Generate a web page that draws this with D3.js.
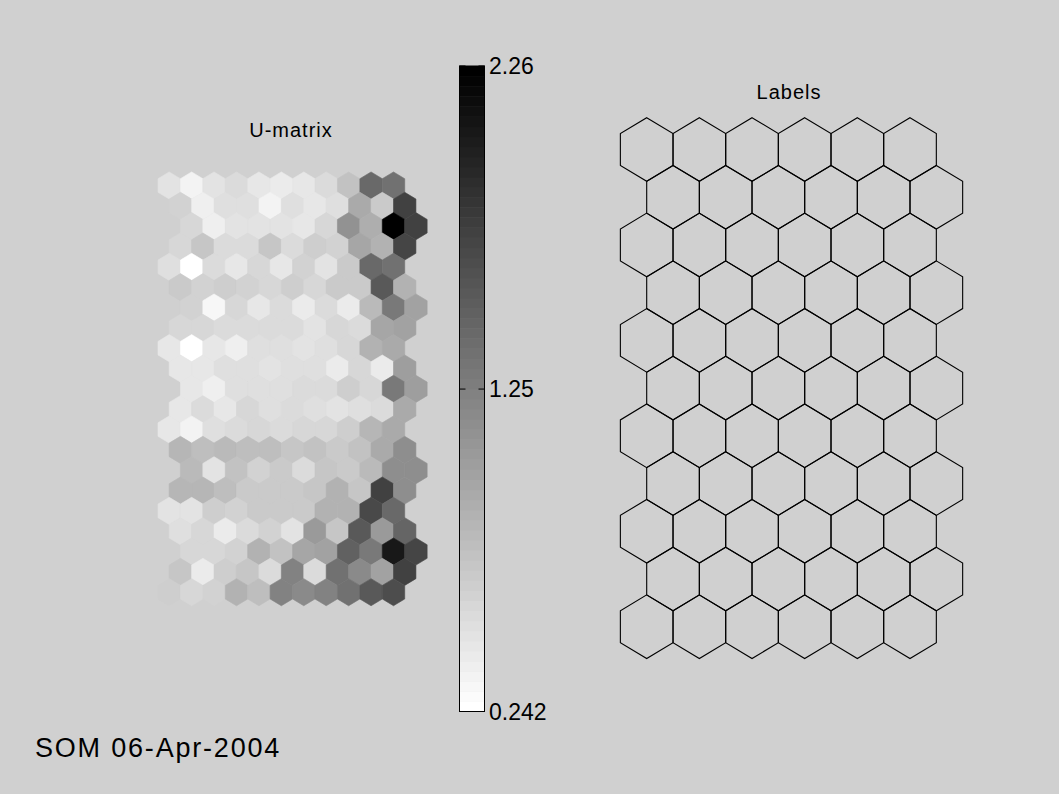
<!DOCTYPE html>
<html>
<head>
<meta charset="utf-8">
<script src="https://cdn.jsdelivr.net/npm/d3@7"></script>
<style>
  body { margin: 0; background: #d0d0d0; }
  svg { display: block; }
</style>
</head>
<body>
<svg id="main-svg"></svg>
<script>
// u-matrix values, 21 rows x 11 columns (read from the gray levels)
const umatRows = [
  [0.49, 0.36, 0.49, 0.55, 0.44, 0.40, 0.44, 0.55, 0.74, 1.42, 1.37],
  [0.61, 0.39, 0.52, 0.52, 0.35, 0.52, 0.46, 0.52, 0.93, 0.68, 1.75],
  [0.58, 0.38, 0.49, 0.49, 0.49, 0.46, 0.58, 1.12, 0.90, 2.26, 1.75],
  [0.58, 0.71, 0.55, 0.55, 0.71, 0.55, 0.65, 0.61, 0.96, 0.87, 1.72],
  [0.52, 0.24, 0.55, 0.46, 0.58, 0.46, 0.61, 0.49, 0.68, 1.41, 1.37],
  [0.68, 0.61, 0.65, 0.61, 0.58, 0.65, 0.58, 0.68, 0.68, 1.56, 0.87],
  [0.61, 0.31, 0.58, 0.44, 0.55, 0.42, 0.55, 0.42, 0.80, 1.31, 0.99],
  [0.58, 0.58, 0.55, 0.53, 0.53, 0.53, 0.49, 0.58, 0.55, 0.96, 0.99],
  [0.46, 0.24, 0.46, 0.39, 0.50, 0.50, 0.49, 0.52, 0.58, 0.87, 0.93],
  [0.44, 0.44, 0.52, 0.50, 0.49, 0.52, 0.50, 0.42, 0.58, 0.42, 1.03],
  [0.46, 0.39, 0.52, 0.52, 0.52, 0.55, 0.55, 0.65, 0.58, 1.31, 1.03],
  [0.46, 0.55, 0.46, 0.58, 0.52, 0.55, 0.52, 0.49, 0.52, 0.55, 0.93],
  [0.46, 0.36, 0.52, 0.55, 0.58, 0.55, 0.58, 0.58, 0.65, 0.84, 0.91],
  [0.84, 0.77, 0.80, 0.77, 0.77, 0.71, 0.74, 0.68, 0.74, 0.93, 1.15],
  [0.80, 0.49, 0.74, 0.61, 0.68, 0.55, 0.71, 0.68, 0.80, 1.15, 1.15],
  [0.84, 0.84, 0.77, 0.68, 0.68, 0.68, 0.71, 0.87, 0.71, 1.75, 1.15],
  [0.49, 0.49, 0.65, 0.61, 0.68, 0.68, 0.68, 0.87, 0.87, 1.69, 1.44],
  [0.52, 0.58, 0.42, 0.55, 0.61, 0.49, 1.06, 0.71, 1.56, 1.04, 1.47],
  [0.58, 0.58, 0.61, 0.87, 0.74, 0.96, 0.99, 1.50, 1.31, 2.04, 1.72],
  [0.71, 0.42, 0.65, 0.71, 0.55, 1.25, 0.55, 1.37, 1.18, 0.99, 1.75],
  [0.65, 0.58, 0.61, 0.87, 0.77, 1.25, 1.18, 1.22, 1.37, 1.56, 1.63]
];
// colour range and colorbar ticks
const umatRange = [0.242, 2.26];
const colorbarTicks = [0.242, 1.25, 2.26];
const colorbarTickLabels = ["0.242", "1.25", "2.26"];
// som map size (rows, columns) for the labels plane
const mapRows = 11;
const mapCols = 6;
const titles = ["U-matrix", "Labels"];
const footer = "SOM 06-Apr-2004";

const width = 1059;
const height = 794;
const font = "'Liberation Sans', Arial, sans-serif";
const nLevels = 64;

var svg = d3.select("#main-svg")
    .attr("width", width)
    .attr("height", height);

svg.append("rect")
    .attr("width", width)
    .attr("height", height)
    .attr("fill", "#d0d0d0");

// hexagon corners in lattice units (pointy top)
const s3 = Math.sqrt(3);
const hexCorners = [[0, -1 / s3], [0.5, -0.5 / s3], [0.5, 0.5 / s3], [0, 1 / s3], [-0.5, 0.5 / s3], [-0.5, -0.5 / s3]];
const rowStep = Math.sqrt(0.75);

function hexPath(cx, cy, xScale, yScale) {
    return "M" + hexCorners.map(c => xScale(cx + c[0]) + "," + yScale(cy + c[1])).join("L") + "Z";
}

// quantized gray colormap, white = low, black = high
var levelScale = d3.scaleQuantize().domain(umatRange).range(d3.range(nLevels));
function grayOf(level) {
    var g = Math.round(255 * (1 - level / (nLevels - 1)));
    return d3.rgb(g, g, g).toString();
}

// ---- u-matrix plane ----
var umX = d3.scaleLinear().domain([0, 10]).range([169.2, 393.5]);
var umY = d3.scaleLinear().domain([0, 20 * rowStep]).range([185.5, 592.2]);
// hexaU lattice: rows shifted 0, .5, 1, .5 of a cell
const umShift = [0, 0.5, 1, 0.5];

var umCells = [];
umatRows.forEach((row, r) => {
    row.forEach((v, c) => {
        umCells.push({ x: c + umShift[r % 4], y: r * rowStep, v: v });
    });
});

svg.append("g")
    .selectAll("path")
    .data(umCells)
    .enter()
    .append("path")
    .attr("d", d => hexPath(d.x, d.y, umX, umY))
    .attr("fill", d => grayOf(levelScale(d.v)))
    .attr("stroke", d => grayOf(levelScale(d.v)))
    .attr("stroke-width", 0.6);

svg.append("text")
    .attr("x", 291)
    .attr("y", 137)
    .attr("text-anchor", "middle")
    .attr("font-family", font)
    .attr("font-size", "20px")
    .attr("letter-spacing", "1px")
    .text(titles[0]);

// ---- colorbar ----
var cbX0 = 459.5, cbX1 = 484.5;
var cbY = d3.scaleLinear().domain(umatRange).range([711.5, 66]);
var step = (umatRange[1] - umatRange[0]) / nLevels;

svg.append("g")
    .selectAll("rect")
    .data(d3.range(nLevels))
    .enter()
    .append("rect")
    .attr("x", cbX0)
    .attr("width", cbX1 - cbX0)
    .attr("y", i => cbY(umatRange[0] + (i + 1) * step))
    .attr("height", i => cbY(umatRange[0] + i * step) - cbY(umatRange[0] + (i + 1) * step) + 0.5)
    .attr("fill", i => grayOf(i));

svg.append("rect")
    .attr("x", cbX0)
    .attr("y", cbY(umatRange[1]))
    .attr("width", cbX1 - cbX0)
    .attr("height", cbY(umatRange[0]) - cbY(umatRange[1]))
    .attr("fill", "none")
    .attr("stroke", "#000")
    .attr("stroke-width", 1);

colorbarTicks.forEach((t, i) => {
    var y = cbY(t);
    svg.append("line")
        .attr("x1", cbX0).attr("x2", cbX0 + 6)
        .attr("y1", y).attr("y2", y)
        .attr("stroke", "#000");
    svg.append("line")
        .attr("x1", cbX1 - 6).attr("x2", cbX1)
        .attr("y1", y).attr("y2", y)
        .attr("stroke", "#000");
    svg.append("text")
        .attr("x", 489)
        .attr("y", y)
        .attr("dy", "0.36em")
        .attr("font-family", font)
        .attr("font-size", "23px")
        .text(colorbarTickLabels[i]);
});

// ---- labels plane ----
var lbX = d3.scaleLinear().domain([0, mapCols - 1]).range([646.7, 910]);
var lbY = d3.scaleLinear().domain([0, (mapRows - 1) * rowStep]).range([149.5, 626.7]);

var lbCells = [];
for (var r = 0; r < mapRows; r++) {
    for (var c = 0; c < mapCols; c++) {
        lbCells.push({ x: c + 0.5 * (r % 2), y: r * rowStep });
    }
}

svg.append("g")
    .selectAll("path")
    .data(lbCells)
    .enter()
    .append("path")
    .attr("d", d => hexPath(d.x, d.y, lbX, lbY))
    .attr("fill", "none")
    .attr("stroke", "#000")
    .attr("stroke-width", 1.1);

svg.append("text")
    .attr("x", 789)
    .attr("y", 99)
    .attr("text-anchor", "middle")
    .attr("font-family", font)
    .attr("font-size", "20px")
    .attr("letter-spacing", "1px")
    .text(titles[1]);

// ---- footer ----
svg.append("text")
    .attr("x", 35)
    .attr("y", 757)
    .attr("font-family", font)
    .attr("font-size", "27px")
    .attr("letter-spacing", "1.8px")
    .text(footer);
</script>
</body>
</html>
